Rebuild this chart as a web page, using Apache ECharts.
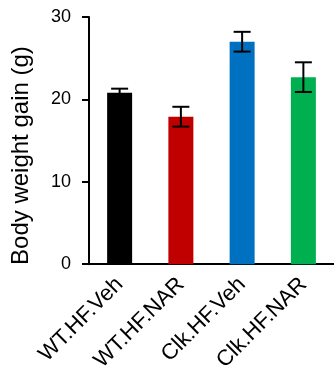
<!DOCTYPE html>
<html><head><meta charset="utf-8">
<script src="https://cdn.jsdelivr.net/npm/echarts@6/dist/echarts.min.js"></script>
<style>html,body{margin:0;padding:0;background:#fff}#c{width:334px;height:374px}</style>
</head><body><div id="c"></div>
<script>
var categories = ['WT.HF.Veh', 'WT.HF.NAR', 'Clk.HF.Veh', 'Clk.HF.NAR'];
var means = [20.8, 17.9, 27.0, 22.7];
var errors = [0.5, 1.2, 1.2, 1.8];
var colors = ['#000000', '#C00000', '#0070C0', '#00B050'];
var yTicks = [0, 10, 20, 30];

var chart = echarts.init(document.getElementById('c'));
var font = 'Liberation Sans, Arial, sans-serif';
chart.setOption({
  animation: false,
  grid: {left: 89, right: -3, top: 17, bottom: 108},
  xAxis: {
    type: 'category', data: categories,
    axisLine: {lineStyle: {color: '#000', width: 2}},
    axisTick: {length: 6, lineStyle: {color: '#000', width: 2}},
    axisLabel: {rotate: 45, margin: 17, color: '#000', fontSize: 22, fontFamily: font}
  },
  yAxis: {
    type: 'value', min: yTicks[0], max: yTicks[yTicks.length - 1], interval: 10,
    name: 'Body weight gain (g)', nameLocation: 'middle', nameGap: 56,
    nameTextStyle: {color: '#000', fontSize: 24, fontFamily: font, padding: [0, 0, 0, -30]},
    axisLine: {show: true, lineStyle: {color: '#000', width: 2}},
    axisTick: {show: true, length: 7, lineStyle: {color: '#000', width: 2}},
    axisLabel: {margin: 18, color: '#000', fontSize: 18, fontFamily: font},
    splitLine: {show: false}
  },
  series: [{
    type: 'bar', barWidth: 25,
    data: means.map(function (v, i) { return {value: v, itemStyle: {color: colors[i]}}; })
  }, {
    type: 'custom',
    data: means.map(function (v, i) { return [i, v - errors[i], v + errors[i]]; }),
    renderItem: function (params, api) {
      var lo = api.coord([api.value(0), api.value(1)]);
      var hi = api.coord([api.value(0), api.value(2)]);
      var hw = 8.5;
      var st = {stroke: '#000', lineWidth: 2};
      return {type: 'group', children: [
        {type: 'line', shape: {x1: hi[0], y1: hi[1], x2: lo[0], y2: lo[1]}, style: st},
        {type: 'line', shape: {x1: hi[0] - hw, y1: hi[1], x2: hi[0] + hw, y2: hi[1]}, style: st},
        {type: 'line', shape: {x1: lo[0] - hw, y1: lo[1], x2: lo[0] + hw, y2: lo[1]}, style: st}
      ]};
    },
    z: 10
  }]
});
</script></body></html>
